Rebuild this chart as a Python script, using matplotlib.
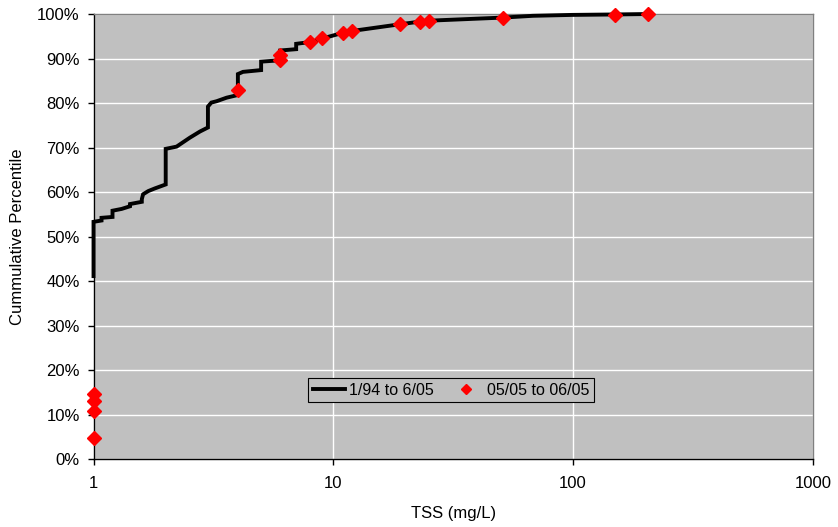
import matplotlib.pyplot as plt
from matplotlib.ticker import FixedLocator, FuncFormatter, NullLocator

plt.rcParams['font.family'] = ['Liberation Sans', 'DejaVu Sans']

# Long-term record 1/94 to 6/05 (TSS mg/L vs cumulative percentile)
hist_tss = [1.0, 1.0, 1.08, 1.08, 1.2, 1.2, 1.31, 1.42, 1.42, 1.59, 1.59, 1.61,
            1.69, 1.8, 2.0, 2.0, 2.22, 2.52, 2.78, 3.0, 3.0, 3.1, 3.26, 3.59,
            4.0, 4.0, 4.2, 5.0, 5.0, 6.0, 6.0, 7.0, 7.0, 8.0, 9.0, 11, 12,
            19, 23, 25, 51, 68, 99, 149, 206]
hist_pct = [41.1, 53.3, 53.6, 54.2, 54.4, 55.8, 56.2, 56.8, 57.3, 57.8, 58.4, 59.5,
            60.2, 60.8, 61.7, 69.7, 70.2, 72.2, 73.6, 74.5, 79.2, 80.1, 80.4, 81.2,
            81.8, 86.5, 87.0, 87.4, 89.3, 89.6, 91.8, 92.1, 93.3, 93.7, 94.5, 95.8, 96.2,
            97.7, 98.3, 98.5, 99.2, 99.6, 99.8, 99.9, 100.0]

# Recent samples 05/05 to 06/05
new_tss = [1, 1, 1, 1, 4, 6, 6, 8, 9, 11, 12, 19, 23, 25, 51, 149, 206]
new_pct = [14.6, 13.1, 10.9, 4.7, 83.0, 90.8, 89.7, 93.7, 94.5, 95.8, 96.2,
           97.7, 98.3, 98.5, 99.2, 99.85, 100.0]

fig = plt.figure(figsize=(8.38, 5.27), dpi=100)
ax = fig.add_axes([0.1116, 0.129, 0.8584, 0.8444])
ax.set_facecolor('#C0C0C0')

ax.plot(hist_tss, hist_pct, color='black', lw=2.8, label='1/94 to 6/05',
        solid_joinstyle='miter', clip_on=False, zorder=3)
ax.plot(new_tss, new_pct, ls='none', marker='D', color='#FF0000', ms=7.3,
        label='05/05 to 06/05', clip_on=False, zorder=4)

ax.set_xscale('log')
ax.set_xlim(1, 1000)
ax.set_ylim(0, 100)
ax.xaxis.set_major_locator(FixedLocator([1, 10, 100, 1000]))
ax.xaxis.set_minor_locator(NullLocator())
ax.xaxis.set_major_formatter(FuncFormatter(lambda v, p: '%d' % v))
ax.yaxis.set_major_locator(FixedLocator(range(0, 101, 10)))
ax.yaxis.set_major_formatter(FuncFormatter(lambda v, p: '%d%%' % v))

ax.grid(True, color='white', lw=1.0)
ax.set_axisbelow(True)

for s in ['top', 'right']:
    ax.spines[s].set_color('#808080')
    ax.spines[s].set_linewidth(1.0)
for s in ['left', 'bottom']:
    ax.spines[s].set_color('black')
    ax.spines[s].set_linewidth(1.0)

ax.tick_params(axis='both', direction='out', length=4, width=1, labelsize=12, pad=6)
ax.tick_params(axis='x', pad=8)

ax.set_xlabel('TSS (mg/L)', fontsize=12, labelpad=11)
ax.set_ylabel('Cummulative Percentile', fontsize=12, labelpad=9)

leg = ax.legend(loc='center', bbox_to_anchor=(0.497, 0.155), ncol=2,
                frameon=True, fancybox=False, facecolor='#C0C0C0',
                edgecolor='black', fontsize=11.5, handlelength=2.0,
                columnspacing=1.0, handletextpad=0.3, borderpad=0.3,
                markerscale=0.75)
leg.get_frame().set_linewidth(0.8)
leg.get_frame().set_alpha(1)

fig.savefig('out.png', dpi=100)
